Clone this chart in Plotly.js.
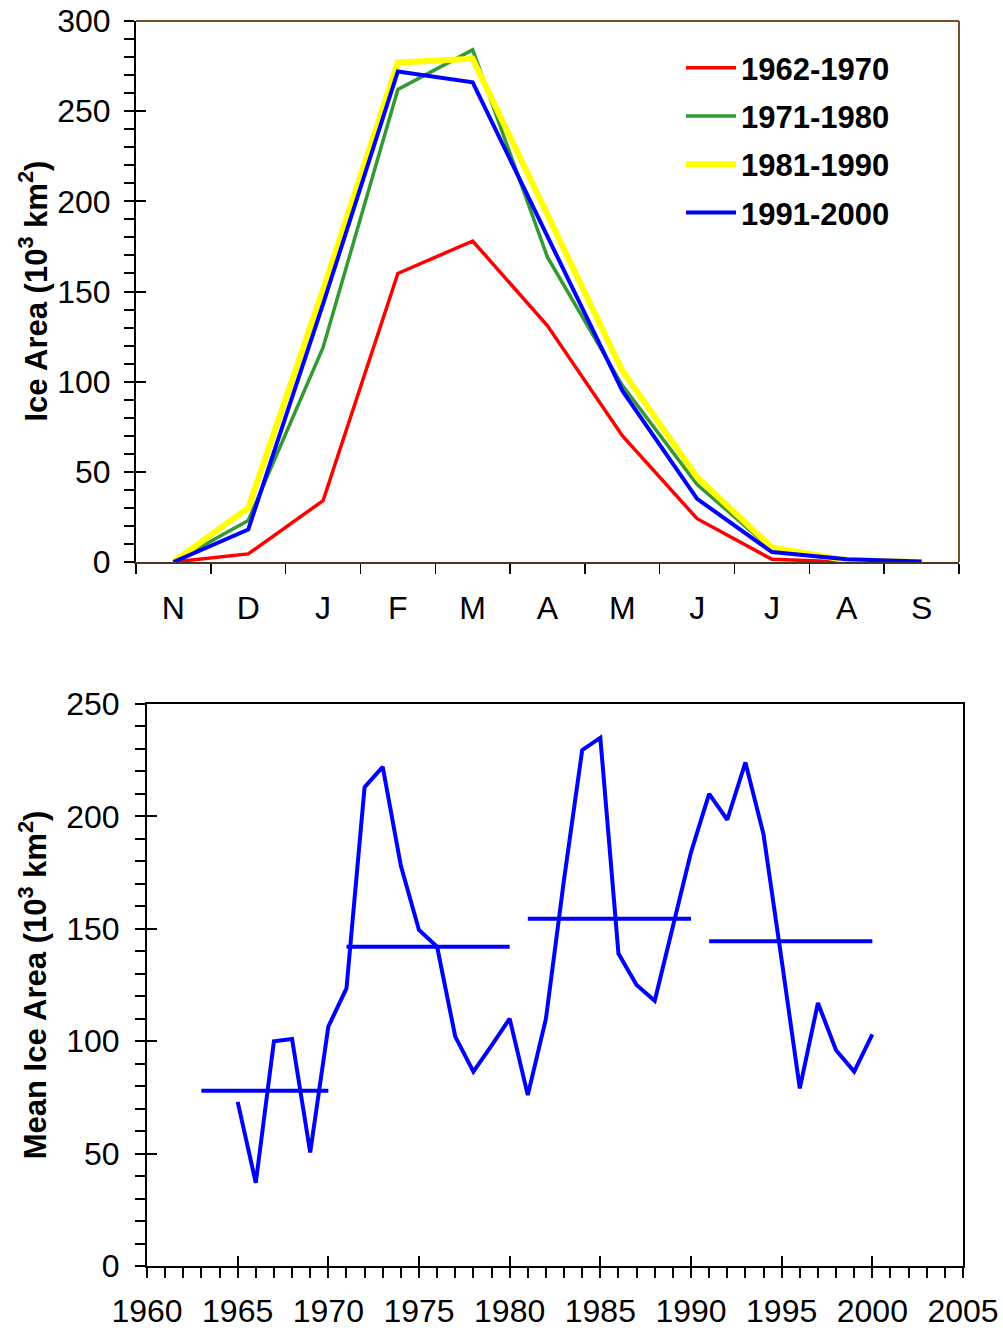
<!DOCTYPE html>
<html>
<head>
<meta charset="utf-8">
<script src="https://cdn.plot.ly/plotly-3.0.1.min.js"></script>
<style>html,body{margin:0;padding:0;background:#fff;}#chart{width:1003px;height:1331px;}</style>
</head>
<body>
<div id="chart"></div>
<script>
// ---- Top chart: monthly ice area by decade ----
const months = ['N','D','J','F','M','A','M','J','J','A','S'];
const decadeNames = ['1962-1970','1971-1980','1981-1990','1991-2000'];
const area1962 = [0, 4.5, 34, 160, 178, 131, 70, 24, 1.5, 0, 0];
const area1971 = [0, 23, 119, 262, 284, 169, 98, 43, 7, 0.5, 0];
const area1981 = [0, 30, 151, 277, 279, 193, 106, 47, 8, 1, 0];
const area1991 = [0, 18, 143, 272, 266, 181, 95, 35, 5.5, 1.5, 0.3];
const decadeColors = ['#ff0000', '#339933', '#ffff00', '#0000ff'];
const decadeWidths = [3.5, 3.5, 6, 4];
const topTitle = 'Ice Area (10<sup>3</sup> km<sup>2</sup>)';

// ---- Bottom chart: annual mean ice area ----
const years = [1965,1966,1967,1968,1969,1970,1971,1972,1973,1974,1975,1976,1977,1978,1979,1980,
               1981,1982,1983,1984,1985,1986,1987,1988,1989,1990,1991,1992,1993,1994,1995,1996,1997,1998,1999,2000];
const meanArea = [73, 37, 100, 101, 50.5, 106.5, 123.5, 213, 222, 178, 149.5, 142, 102, 86.5, 98, 110,
                  76, 110, 172, 229.5, 235, 139, 125, 118, 151, 184, 210, 198.5, 224, 192, 136, 79, 117, 96, 86.5, 103];
const periodStart = [1963, 1971, 1981, 1991];
const periodEnd = [1970, 1980, 1990, 2000];
const periodMean = [78, 142, 154.5, 144.5];
const bottomTitle = 'Mean Ice Area (10<sup>3</sup> km<sup>2</sup>)';

const monthX = months.map((_, i) => i);
const monthBounds = months.map((_, i) => i - 0.5).concat([months.length - 0.5]);
const series = [area1962, area1971, area1981, area1991];

const FONT = 'Liberation Sans, Arial, sans-serif';
const traces = [];
series.forEach((s, k) => {
  traces.push({
    x: monthX, y: s, type: 'scatter', mode: 'lines', name: decadeNames[k],
    legendgroup: 'g' + k,
    line: {color: decadeColors[k], width: decadeWidths[k]},
    xaxis: 'x', yaxis: 'y', hoverinfo: 'skip'
  });
});
// decadal mean segments
const segX = [], segY = [];
periodStart.forEach((s, i) => {
  segX.push(s, periodEnd[i], null);
  segY.push(periodMean[i], periodMean[i], null);
});
traces.push({x: segX, y: segY, type: 'scatter', mode: 'lines', showlegend: false,
  line: {color: '#0000ff', width: 4}, xaxis: 'x2', yaxis: 'y2', connectgaps: false});
traces.push({x: years, y: meanArea, type: 'scatter', mode: 'lines', showlegend: false,
  line: {color: '#0000ff', width: 4}, xaxis: 'x2', yaxis: 'y2'});
// empty helper traces so the overlay tick axes exist
traces.push({x: [], y: [], type: 'scatter', showlegend: false, xaxis: 'x', yaxis: 'y3'});
traces.push({x: [], y: [], type: 'scatter', showlegend: false, xaxis: 'x4', yaxis: 'y4'});

const tickFont = {family: FONT, size: 32, color: '#000'};
const titleFont = {family: FONT, size: 31, color: '#000', weight: 'bold'};

const topDomX = [136/1003, 959/1003];
const topDomY = [(1331-562)/1331, (1331-21)/1331];
const botDomX = [147/1003, 963/1003];
const botDomY = [(1331-1266)/1331, (1331-704)/1331];

const layout = {
  width: 1003, height: 1331,
  margin: {l: 0, r: 0, t: 0, b: 0},
  paper_bgcolor: '#fff', plot_bgcolor: '#fff',
  font: {family: FONT, color: '#000'},
  showlegend: true,
  legend: {
    x: 681/1003, y: (1331-41)/1331, xanchor: 'left', yanchor: 'top',
    font: {family: FONT, size: 31, color: '#000', weight: 'bold'},
    bgcolor: 'rgba(0,0,0,0)', borderwidth: 0, tracegroupgap: 5, itemwidth: 50
  },
  xaxis: {
    domain: topDomX, anchor: 'y', range: [-0.5, months.length - 0.5],
    tickmode: 'array', tickvals: monthX, ticktext: months, ticks: '',
    tickfont: tickFont, ticklabelstandoff: 17,
    minor: {tickmode: 'array', tickvals: monthBounds, ticks: 'outside', ticklen: 10, tickwidth: 1.5, tickcolor: '#000'},
    showline: true, linecolor: '#4a3520', linewidth: 2, showgrid: false, zeroline: false, fixedrange: true
  },
  yaxis: {
    domain: topDomY, anchor: 'x', range: [0, 300], tickmode: 'linear', tick0: 0, dtick: 50,
    ticks: 'outside', ticklen: 10, tickwidth: 2, tickcolor: '#000', tickfont: tickFont, ticklabelstandoff: 7,
    minor: {dtick: 10, ticks: 'outside', ticklen: 10, tickwidth: 2, tickcolor: '#000'},
    showline: true, linecolor: '#000', linewidth: 2, showgrid: false, zeroline: false, fixedrange: true
  },
  yaxis3: {
    overlaying: 'y', anchor: 'x', side: 'left', range: [0, 300], tickmode: 'linear', tick0: 0, dtick: 50,
    ticks: 'inside', ticklen: 10, tickwidth: 2, tickcolor: '#000', showticklabels: false,
    showline: false, showgrid: false, zeroline: false, fixedrange: true
  },
  xaxis2: {
    domain: botDomX, anchor: 'y2', range: [1960, 2005], tickmode: 'linear', tick0: 1960, dtick: 5,
    ticks: 'outside', ticklen: 10, tickwidth: 2, tickcolor: '#000', tickfont: tickFont, ticklabelstandoff: 6,
    minor: {dtick: 1, ticks: 'outside', ticklen: 10, tickwidth: 2, tickcolor: '#000'},
    showline: true, linecolor: '#000', linewidth: 2, mirror: true, showgrid: false, zeroline: false, fixedrange: true
  },
  yaxis2: {
    domain: botDomY, anchor: 'x2', range: [0, 250], tickmode: 'linear', tick0: 0, dtick: 50,
    ticks: 'outside', ticklen: 10, tickwidth: 2, tickcolor: '#000', tickfont: tickFont, ticklabelstandoff: 9,
    minor: {dtick: 10, ticks: 'outside', ticklen: 10, tickwidth: 2, tickcolor: '#000'},
    showline: true, linecolor: '#000', linewidth: 2, mirror: true, showgrid: false, zeroline: false,
    title: {text: bottomTitle, font: titleFont, standoff: 10}, fixedrange: true
  },
  xaxis4: {
    overlaying: 'x2', anchor: 'y4', range: [1960, 2005], tickmode: 'linear', tick0: 1960, dtick: 5,
    ticks: 'inside', ticklen: 10, tickwidth: 2, tickcolor: '#000', showticklabels: false,
    showline: false, showgrid: false, zeroline: false, fixedrange: true
  },
  yaxis4: {
    overlaying: 'y2', anchor: 'x2', side: 'left', range: [0, 250], tickmode: 'linear', tick0: 0, dtick: 50,
    ticks: 'inside', ticklen: 10, tickwidth: 2, tickcolor: '#000', showticklabels: false,
    showline: false, showgrid: false, zeroline: false, fixedrange: true
  },
  annotations: [
    {text: topTitle, font: titleFont, textangle: -90, showarrow: false,
     xref: 'paper', yref: 'paper', x: 33/1003, y: (topDomY[0] + topDomY[1]) / 2,
     xanchor: 'center', yanchor: 'middle'}
  ],
  shapes: [
    {type: 'line', xref: 'x domain', yref: 'y domain', x0: 0, x1: 1, y0: 1, y1: 1, line: {color: '#70512b', width: 2}},
    {type: 'line', xref: 'x domain', yref: 'y domain', x0: 1, x1: 1, y0: 0, y1: 1, line: {color: '#70512b', width: 2}}
  ]
};

Plotly.newPlot('chart', traces, layout, {staticPlot: true, displayModeBar: false});
</script>
</body>
</html>
